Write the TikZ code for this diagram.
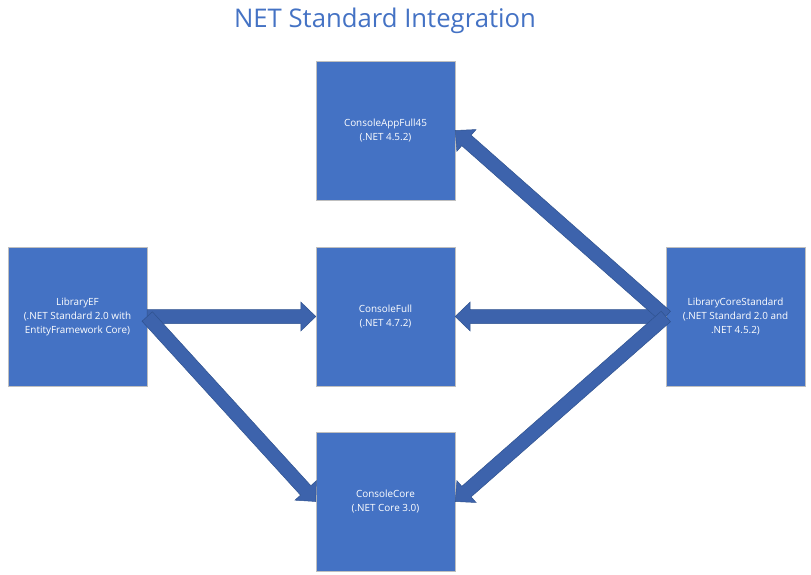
\documentclass[tikz,border=0pt]{standalone}
\usepackage{fontspec}
\setmainfont{Open Sans}
\usetikzlibrary{calc}
\definecolor{boxblue}{RGB}{68,114,196}
\definecolor{arrowblue}{RGB}{61,99,172}
\definecolor{arrowline}{RGB}{47,82,143}
\tikzset{
  project/.style={draw=black!25, fill=boxblue, text=white, minimum size=139pt,
    inner sep=0pt, align=center, font=\fontsize{9.9}{14}\selectfont},
  blockarrow/.style={fill=arrowblue, draw=arrowline, line width=.5pt, line join=miter}
}
% block arrow from #1 to #2
\newcommand{\blockarrow}[2]{%
  \path ($(#2)!15pt!(#1)$) coordinate (neck);
  \filldraw[blockarrow] ($(#1)!7pt!90:(#2)$) -- ($(neck)!7pt!90:(#2)$) --
    ($(neck)!14.5pt!90:(#2)$) -- (#2) -- ($(neck)!14.5pt!-90:(#2)$) --
    ($(neck)!7pt!-90:(#2)$) -- ($(#1)!7pt!-90:(#2)$) -- cycle;}
\begin{document}
\begin{tikzpicture}[x=1pt,y=-1pt]
\useasboundingbox (0,0) rectangle (811,575);
% Title
\node[text=boxblue, font=\fontsize{25.7}{30}\selectfont] (title) at (385,21) {NET Standard Integration};
% Projects
\node[project] (app45) at (385.5,130.5) {ConsoleAppFull45\\(.NET 4.5.2)};
\node[project] (ef) at (77.5,316.5) {LibraryEF\\(.NET Standard 2.0 with\\EntityFramework Core)};
\node[project] (full) at (385.5,316.5) {ConsoleFull\\(.NET 4.7.2)};
\node[project] (std) at (735.5,316.5) {LibraryCoreStandard\\(.NET Standard 2.0 and\\.NET 4.5.2)};
\node[project] (core) at (385.5,501.5) {ConsoleCore\\(.NET Core 3.0)};
% References from LibraryEF
\blockarrow{ef.east}{full.west}
\blockarrow{ef.east}{core.west}
% References from LibraryCoreStandard
\blockarrow{std.west}{full.east}
\blockarrow{std.west}{app45.east}
\blockarrow{std.west}{core.east}
\end{tikzpicture}
\end{document}
